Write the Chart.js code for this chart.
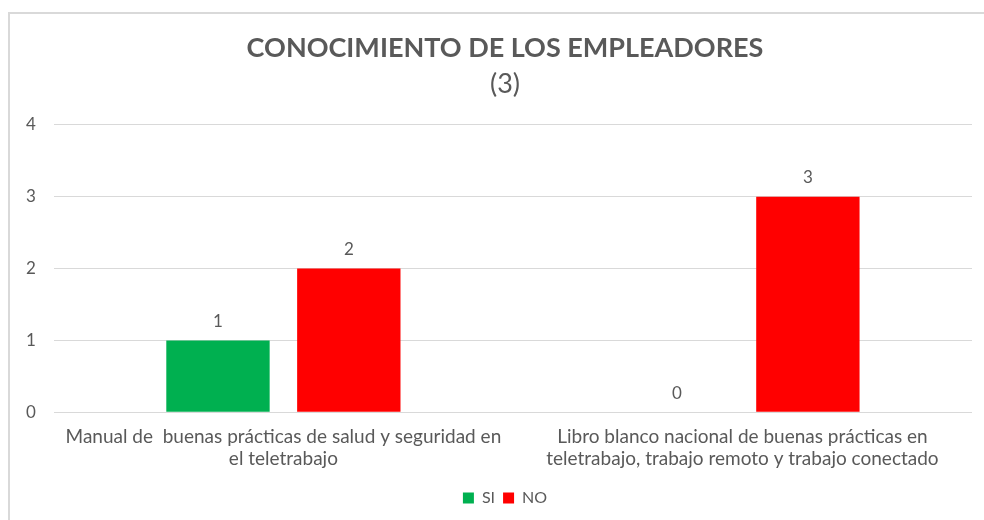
<!DOCTYPE html>
<html>
<head>
<meta charset="utf-8">
<script src="https://cdn.jsdelivr.net/npm/chart.js@4/dist/chart.umd.min.js"></script>
<style>
  body { margin: 0; background: #fff; overflow: hidden; }
  #frame { position: absolute; left: 8px; top: 12px; width: 1000px; height: 530px; border: 2px solid #d9d9d9; }
  #wrap { position: absolute; left: 0; top: 0; width: 1010px; height: 520px; }
</style>
</head>
<body>
<div id="frame"></div>
<div id="wrap"><canvas id="chart" width="1010" height="520"></canvas></div>
<script>
const categories = [
  ["Manual de  buenas prácticas de salud y seguridad en", "el teletrabajo"],
  ["Libro blanco nacional de buenas prácticas en", "teletrabajo, trabajo remoto y trabajo conectado"],
];
const siValues = [1, 0];
const noValues = [2, 3];
const yMax = 4;

const FONT = "Lato, sans-serif";
const TEXT = "#595959";

// draws the value above every bar
const valueLabels = {
  id: "valueLabels",
  afterDatasetsDraw(chart) {
    const ctx = chart.ctx;
    ctx.save();
    ctx.font = "17px " + FONT;
    ctx.fillStyle = TEXT;
    ctx.textAlign = "center";
    ctx.textBaseline = "middle";
    chart.data.datasets.forEach((ds, i) => {
      chart.getDatasetMeta(i).data.forEach((bar, j) => {
        ctx.fillText(ds.data[j], bar.x, bar.y - 19);
      });
    });
    ctx.restore();
  },
};

new Chart(document.getElementById("chart"), {
  type: "bar",
  data: {
    labels: categories,
    datasets: [
      { label: "SI", data: siValues, backgroundColor: "#00B050" },
      { label: "NO", data: noValues, backgroundColor: "#FF0000" },
    ],
  },
  options: {
    responsive: false,
    animation: false,
    categoryPercentage: 0.57,
    barPercentage: 0.79,
    layout: { padding: { left: 8, right: 8, top: 32, bottom: 4 } },
    scales: {
      x: {
        grid: { display: false },
        border: { display: false },
        ticks: { color: TEXT, font: { size: 19, family: FONT, lineHeight: 1.15 }, maxRotation: 0, padding: 6 },
        afterFit(scale) { scale.height += 6; },
      },
      y: {
        min: 0,
        max: yMax,
        ticks: { stepSize: 1, color: TEXT, font: { size: 17, family: FONT }, padding: 18 },
        grid: { color: "#d9d9d9", lineWidth: 1, drawTicks: false },
        border: { display: false },
      },
      // empty right-hand gutter so the plot ends where the original does
      gutter: {
        position: "right",
        min: 0,
        max: yMax,
        ticks: { display: false },
        grid: { display: false },
        border: { display: false },
        afterFit(scale) { scale.width = 30; },
      },
    },
    plugins: {
      title: {
        display: true,
        text: "CONOCIMIENTO DE LOS EMPLEADORES",
        color: TEXT,
        font: { size: 27, weight: "bold", family: FONT },
        padding: { top: 0, bottom: 4 },
      },
      subtitle: {
        display: true,
        text: "(3)",
        color: TEXT,
        font: { size: 27, weight: "normal", family: FONT },
        padding: { top: 0, bottom: 24 },
      },
      legend: {
        position: "bottom",
        labels: { color: TEXT, font: { size: 16, family: FONT }, boxWidth: 11, boxHeight: 11, padding: 8 },
      },
      tooltip: { enabled: false },
    },
  },
  plugins: [valueLabels],
});
</script>
</body>
</html>
